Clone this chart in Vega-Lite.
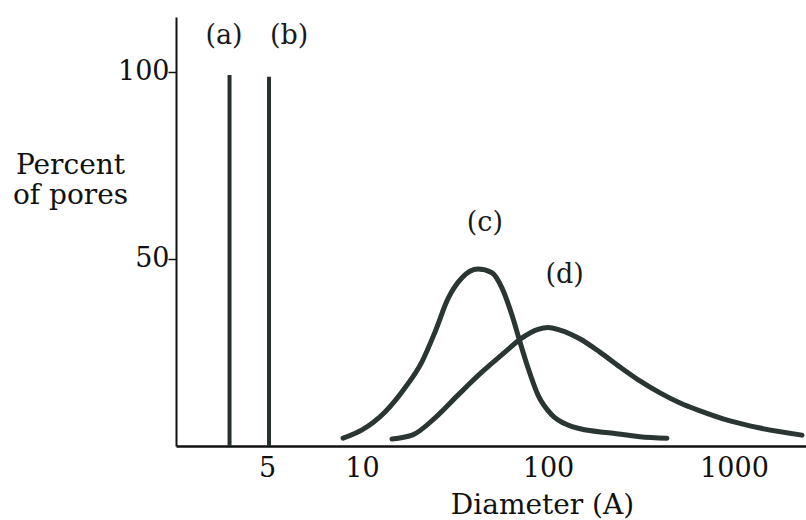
{
  "$schema": "https://vega.github.io/schema/vega-lite/v6.json",
  "autosize": {"type": "none"},
  "padding": {"left": 176, "top": 17, "right": 0, "bottom": 74},
  "width": 630,
  "height": 429,
  "background": "white",
  "config": {
    "view": {"stroke": null},
    "font": "DejaVu Serif",
    "axis": {"grid": false, "domainColor": "#111", "tickColor": "#111", "labelColor": "#111", "titleColor": "#111", "labelFont": "DejaVu Serif", "titleFont": "DejaVu Serif", "labelFontWeight": "normal", "titleFontWeight": "normal"}
  },
  "datasets": {
    "spikes": [
      {"pore": "(a)", "diameter": 3.8, "percent": 99.2},
      {"pore": "(b)", "diameter": 5.07, "percent": 98.7}
    ],
    "curves": [
      {"pore": "(c)", "diameter": 8.71, "percent": 2.1},
      {"pore": "(c)", "diameter": 10, "percent": 4.3},
      {"pore": "(c)", "diameter": 13.3, "percent": 9.1},
      {"pore": "(c)", "diameter": 17.0, "percent": 15.5},
      {"pore": "(c)", "diameter": 21.0, "percent": 22.5},
      {"pore": "(c)", "diameter": 24.7, "percent": 30.5},
      {"pore": "(c)", "diameter": 29.0, "percent": 39.4},
      {"pore": "(c)", "diameter": 34.5, "percent": 45.0},
      {"pore": "(c)", "diameter": 42.0, "percent": 47.3},
      {"pore": "(c)", "diameter": 50.0, "percent": 46.3},
      {"pore": "(c)", "diameter": 56.6, "percent": 42.2},
      {"pore": "(c)", "diameter": 64.0, "percent": 35.0},
      {"pore": "(c)", "diameter": 70.7, "percent": 27.8},
      {"pore": "(c)", "diameter": 78.1, "percent": 20.9},
      {"pore": "(c)", "diameter": 88.4, "percent": 13.6},
      {"pore": "(c)", "diameter": 105, "percent": 8.3},
      {"pore": "(c)", "diameter": 128, "percent": 5.6},
      {"pore": "(c)", "diameter": 149, "percent": 4.6},
      {"pore": "(c)", "diameter": 224, "percent": 3.4},
      {"pore": "(c)", "diameter": 312, "percent": 2.5},
      {"pore": "(c)", "diameter": 436, "percent": 2.1},
      {"pore": "(d)", "diameter": 14.5, "percent": 1.9},
      {"pore": "(d)", "diameter": 18.6, "percent": 2.9},
      {"pore": "(d)", "diameter": 24.7, "percent": 7.5},
      {"pore": "(d)", "diameter": 32.8, "percent": 13.6},
      {"pore": "(d)", "diameter": 44.2, "percent": 19.8},
      {"pore": "(d)", "diameter": 58.7, "percent": 25.1},
      {"pore": "(d)", "diameter": 72.5, "percent": 28.9},
      {"pore": "(d)", "diameter": 88.4, "percent": 31.2},
      {"pore": "(d)", "diameter": 100, "percent": 31.7},
      {"pore": "(d)", "diameter": 116, "percent": 31.0},
      {"pore": "(d)", "diameter": 149, "percent": 28.6},
      {"pore": "(d)", "diameter": 190, "percent": 25.1},
      {"pore": "(d)", "diameter": 244, "percent": 21.1},
      {"pore": "(d)", "diameter": 312, "percent": 17.4},
      {"pore": "(d)", "diameter": 400, "percent": 14.2},
      {"pore": "(d)", "diameter": 513, "percent": 11.5},
      {"pore": "(d)", "diameter": 657, "percent": 9.4},
      {"pore": "(d)", "diameter": 952, "percent": 6.7},
      {"pore": "(d)", "diameter": 1380, "percent": 4.8},
      {"pore": "(d)", "diameter": 2321, "percent": 2.9}
    ],
    "labels": [
      {"pore": "(a)", "diameter": 3.65, "percent": 109.5},
      {"pore": "(b)", "diameter": 5.87, "percent": 109.6},
      {"pore": "(c)", "diameter": 45.8, "percent": 59.6},
      {"pore": "(d)", "diameter": 123, "percent": 45.7}
    ],
    "xticks": [
      {"diameter": 10},
      {"diameter": 100},
      {"diameter": 1000}
    ]
  },
  "encoding": {
    "x": {
      "field": "diameter", "type": "quantitative",
      "scale": {"type": "log", "domain": [2.57, 10, 2439], "range": [0, 186, 630], "nice": false, "zero": false},
      "axis": {
        "orient": "bottom",
        "title": "Diameter (A)", "values": [5, 10, 100, 1000], "format": "d",
        "domainWidth": 2.5, "ticks": false, "labelPadding": 9,
        "labelFontSize": 27, "titleFontSize": 28,
        "titleX": 366, "titleY": 67, "titleAlign": "center", "titleAnchor": null, "titleBaseline": "alphabetic",
        "labelOverlap": false, "labelFlush": false
      }
    },
    "y": {
      "field": "percent", "type": "quantitative",
      "scale": {"domain": [0, 114.7], "nice": false, "zero": true},
      "axis": {
        "title": ["Percent", "of pores"], "values": [50, 100],
        "domainWidth": 2, "tickSize": 8, "tickWidth": 1.5, "labelPadding": -1,
        "labelFontSize": 27, "titleFontSize": 28, "titleAngle": 0,
        "titleX": -106, "titleY": 156, "titleAlign": "center", "titleAnchor": null, "titleBaseline": "alphabetic", "titleLineHeight": 30,
        "labelOverlap": false, "labelFlush": false,
        "encode": {"ticks": {"update": {"x2": {"value": 8}}}}
      }
    }
  },
  "layer": [
    {
      "data": {"name": "spikes"},
      "mark": {"type": "rule", "color": "#27302e", "strokeWidth": 4},
      "encoding": {"y": {"datum": 0}, "y2": {"field": "percent"}}
    },
    {
      "data": {"name": "xticks"},
      "mark": {"type": "rule", "color": "#111", "strokeWidth": 1.5},
      "encoding": {"y": {"datum": 0}, "y2": {"datum": 2.1}}
    },
    {
      "data": {"name": "curves"},
      "mark": {"type": "line", "color": "#2b3533", "strokeWidth": 5, "interpolate": "monotone", "strokeCap": "round"},
      "encoding": {"detail": {"field": "pore"}}
    },
    {
      "data": {"name": "labels"},
      "mark": {"type": "text", "font": "DejaVu Serif", "fontSize": 27, "color": "#1a1a1a", "align": "center", "baseline": "middle"},
      "encoding": {"text": {"field": "pore"}}
    }
  ]
}
